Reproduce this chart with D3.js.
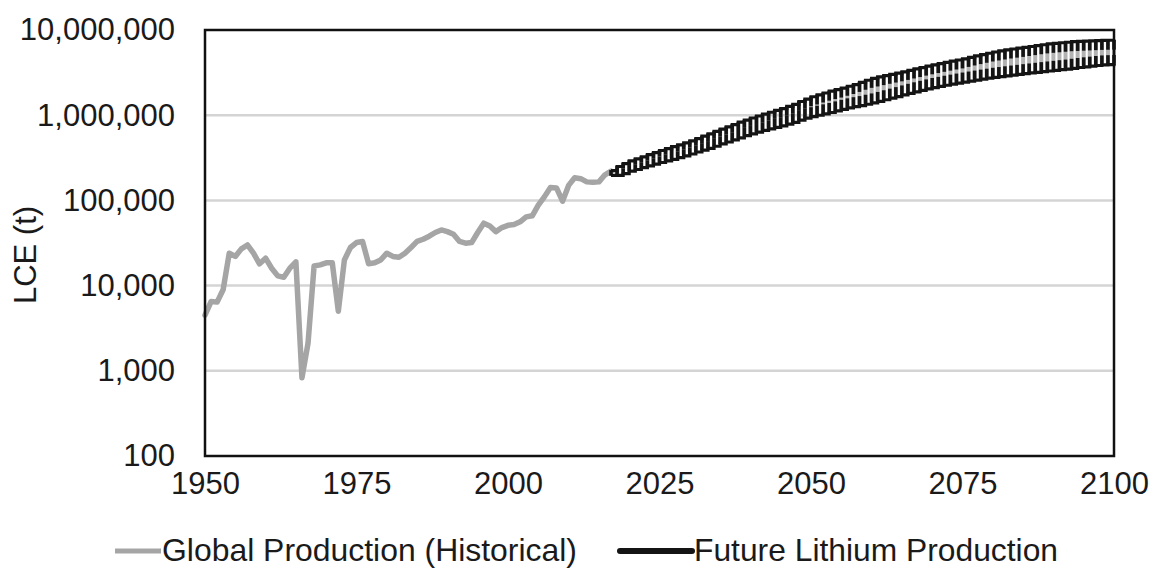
<!DOCTYPE html>
<html>
<head>
<meta charset="utf-8">
<script src="https://cdn.jsdelivr.net/npm/d3@7/dist/d3.min.js"></script>
<style>
  html, body { margin: 0; padding: 0; background: #fff; }
  svg { display: block; font-family: "Liberation Sans", Arial, sans-serif; }
</style>
</head>
<body>
<svg id="chart" width="1149" height="569"></svg>
<script>
// Historical global lithium production, LCE tonnes
const histYears = d3.range(1950, 2018);
const histValues = [
  4500, 6500, 6400, 9000, 24000, 22000, 27000, 30000, 24000, 18000,
  21000, 16000, 13000, 12500, 16000, 19000, 830, 2100, 17000, 17500,
  18500, 18600, 5000, 20000, 28000, 32000, 33000, 18000, 18500, 20000,
  24000, 22000, 21500, 24000, 28000, 33000, 35000, 38000, 42000, 45000,
  43000, 40000, 33000, 31500, 32000, 42000, 54000, 50000, 43000, 48000,
  51000, 52000, 56000, 64000, 66000, 88000, 110000, 142000, 140000, 98000,
  150000, 184000, 180000, 165000, 163000, 165000, 200000, 220000
];

// Projected production range (thousand t LCE), 2017-2100
const futureYears = d3.range(2017, 2101);
const futureHigh = [
  215, 240, 260, 280, 295, 312, 330, 350, 370, 390,
  410, 430, 455, 480, 510, 545, 580, 620, 660, 700,
  745, 795, 840, 890, 940, 990, 1040, 1095, 1150, 1220,
  1290, 1390, 1480, 1580, 1660, 1750, 1840, 1920, 2000, 2100,
  2200, 2330, 2470, 2600, 2700, 2800, 2900, 3000, 3100, 3220,
  3350, 3480, 3620, 3750, 3880, 4010, 4140, 4270, 4400, 4580,
  4760, 4940, 5120, 5300, 5450, 5600, 5750, 5880, 6000, 6150,
  6300, 6450, 6600, 6700, 6800, 6900, 7000, 7050, 7100, 7150,
  7200, 7250, 7280, 7300
];
const futureLow = [
  205, 205, 215, 230, 240, 252, 265, 278, 290, 303,
  316, 330, 347, 365, 385, 405, 425, 450, 480, 505,
  535, 565, 600, 630, 660, 690, 720, 750, 780, 820,
  860, 910, 960, 1000, 1040, 1080, 1120, 1170, 1220, 1270,
  1310, 1350, 1400, 1450, 1510, 1580, 1650, 1720, 1800, 1880,
  1960, 2040, 2120, 2200, 2270, 2340, 2410, 2480, 2550, 2620,
  2690, 2760, 2830, 2900, 2960, 3020, 3080, 3140, 3200, 3260,
  3320, 3380, 3440, 3500, 3560, 3620, 3700, 3780, 3850, 3920,
  3990, 4050, 4080, 4100
];

const yTickValues = [100, 1000, 10000, 100000, 1000000, 10000000];
const xTickValues = [1950, 1975, 2000, 2025, 2050, 2075, 2100];
const legendLabels = ["Global Production (Historical)", "Future Lithium Production"];

const svg = d3.select("#chart");
const plotLeft = 205, plotRight = 1114, plotTop = 30, plotBottom = 456;

const x = d3.scaleLinear().domain([1950, 2100]).range([plotLeft, plotRight]);
const y = d3.scaleLog().domain([100, 1e7]).range([plotBottom, plotTop]);
const fmt = d3.format(",");

// horizontal gridlines
svg.append("g")
  .selectAll("line")
  .data(yTickValues.slice(1, -1))
  .join("line")
  .attr("x1", plotLeft).attr("x2", plotRight)
  .attr("y1", d => y(d)).attr("y2", d => y(d))
  .attr("stroke", "#d4d4d4").attr("stroke-width", 2.5);

// y axis labels
const yAxis = d3.axisLeft(y).tickValues(yTickValues).tickFormat(fmt).tickSize(0).tickPadding(30);
svg.append("g").attr("transform", `translate(${plotLeft},0)`).call(yAxis)
  .call(g => g.select(".domain").remove())
  .selectAll("text")
  .attr("font-size", 31).attr("fill", "#1a1a1a")
  .attr("font-family", "Liberation Sans, Arial, sans-serif");

// x axis labels
const xAxis = d3.axisBottom(x).tickValues(xTickValues).tickFormat(d3.format("d")).tickSize(0).tickPadding(16);
svg.append("g").attr("transform", `translate(0,${plotBottom})`).call(xAxis)
  .call(g => g.select(".domain").remove())
  .selectAll("text")
  .attr("font-size", 31).attr("fill", "#1a1a1a")
  .attr("font-family", "Liberation Sans, Arial, sans-serif");

// y axis title
svg.append("text")
  .attr("transform", "translate(36,255) rotate(-90)")
  .attr("text-anchor", "middle")
  .attr("font-size", 31).attr("fill", "#1a1a1a")
  .text("LCE (t)");

// historical line
const hist = histYears.map((yr, i) => ({ yr, v: histValues[i] }));
svg.append("path")
  .datum(hist)
  .attr("fill", "none")
  .attr("stroke", "#a5a5a5")
  .attr("stroke-width", 5.5)
  .attr("stroke-linejoin", "round")
  .attr("stroke-linecap", "round")
  .attr("d", d3.line().x(d => x(d.yr)).y(d => y(d.v)));

// future range: per-year bars with dark ends
const fut = futureYears.map((yr, i) => ({ yr, hi: futureHigh[i] * 1000, lo: futureLow[i] * 1000 }));
const fg = svg.append("g");
fg.selectAll("line.bar")
  .data(fut)
  .join("line")
  .attr("class", "bar")
  .attr("x1", d => x(d.yr)).attr("x2", d => x(d.yr))
  .attr("y1", d => y(d.hi)).attr("y2", d => y(d.lo))
  .attr("stroke", "#b3b3b3").attr("stroke-width", 4);

const edge = (key, shift) => d3.line()
  .x(d => x(d.yr))
  .y(d => y(d[key]) + shift)
  .curve(d3.curveStepAfter);

fg.selectAll("line.endHi")
  .data(fut)
  .join("line")
  .attr("class", "endHi")
  .attr("x1", d => x(d.yr)).attr("x2", d => x(d.yr))
  .attr("y1", d => y(d.hi) - 2).attr("y2", d => Math.min(y(d.hi) + 8, (y(d.hi) + y(d.lo)) / 2))
  .attr("stroke", "#141414").attr("stroke-width", 3.6);
fg.selectAll("line.endLo")
  .data(fut)
  .join("line")
  .attr("class", "endLo")
  .attr("x1", d => x(d.yr)).attr("x2", d => x(d.yr))
  .attr("y1", d => y(d.lo) + 2).attr("y2", d => Math.max(y(d.lo) - 8, (y(d.hi) + y(d.lo)) / 2))
  .attr("stroke", "#141414").attr("stroke-width", 3.6);

fg.append("path").datum(fut)
  .attr("fill", "none").attr("stroke", "#141414").attr("stroke-width", 3.2)
  .attr("d", edge("hi", -1.5));
fg.append("path").datum(fut)
  .attr("fill", "none").attr("stroke", "#141414").attr("stroke-width", 3.2)
  .attr("d", edge("lo", 1.5));

// plot frame
svg.append("rect")
  .attr("x", plotLeft).attr("y", plotTop)
  .attr("width", plotRight - plotLeft).attr("height", plotBottom - plotTop)
  .attr("fill", "none").attr("stroke", "#111").attr("stroke-width", 2.5);

// legend
const leg = svg.append("g");
leg.append("line").attr("x1", 115).attr("x2", 161).attr("y1", 551).attr("y2", 551)
  .attr("stroke", "#a5a5a5").attr("stroke-width", 5);
leg.append("text").attr("x", 162).attr("y", 561)
  .attr("font-size", 32).attr("fill", "#1a1a1a")
  .attr("textLength", 415).attr("lengthAdjust", "spacingAndGlyphs")
  .text(legendLabels[0]);
leg.append("line").attr("x1", 620).attr("x2", 692).attr("y1", 551).attr("y2", 551)
  .attr("stroke", "#141414").attr("stroke-width", 6).attr("stroke-linecap", "round");
leg.append("text").attr("x", 694).attr("y", 561)
  .attr("font-size", 32).attr("fill", "#1a1a1a")
  .attr("textLength", 364).attr("lengthAdjust", "spacingAndGlyphs")
  .text(legendLabels[1]);
</script>
</body>
</html>
